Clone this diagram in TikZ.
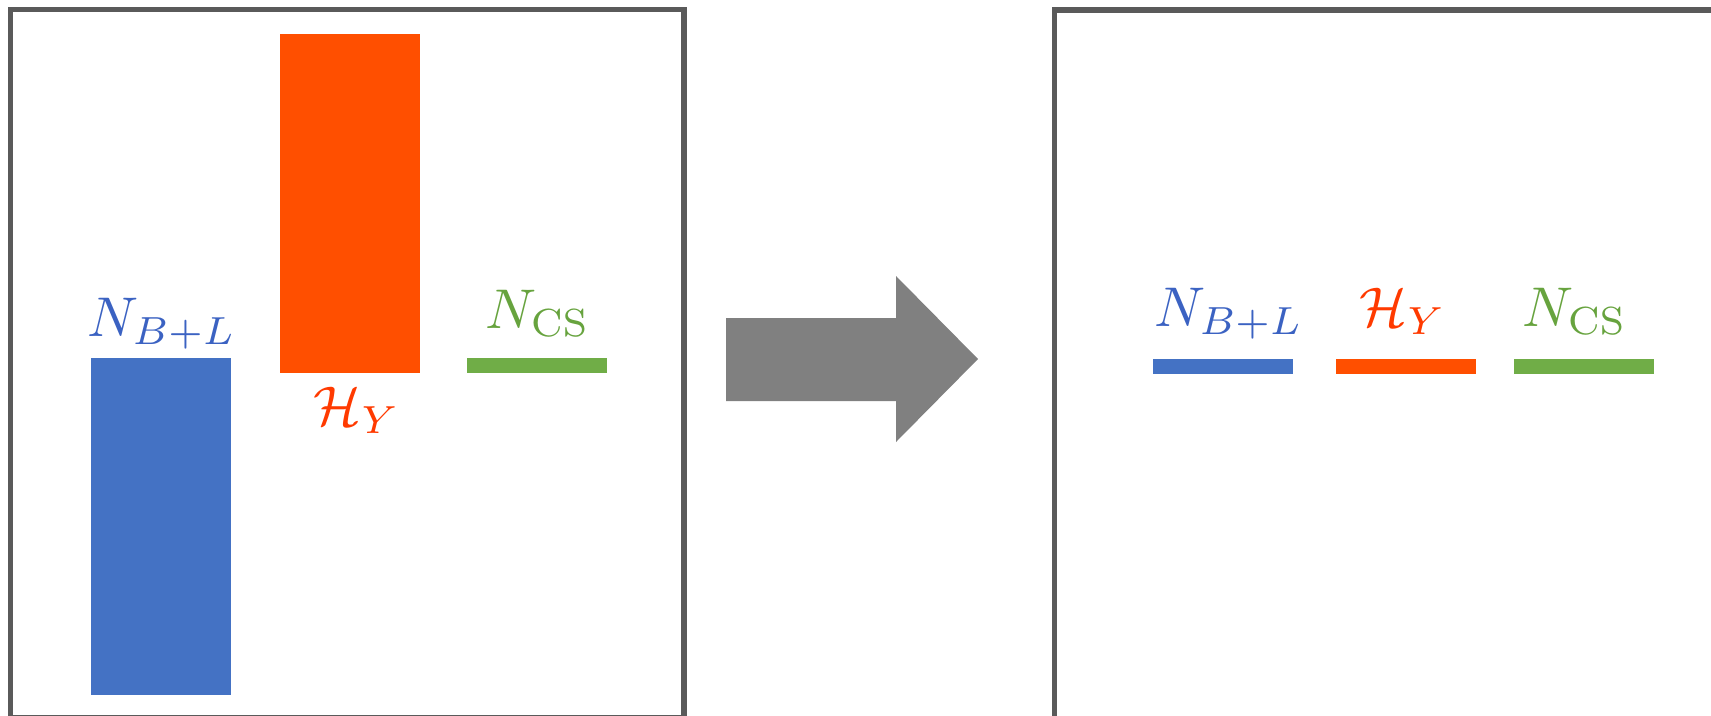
\documentclass[tikz,border=0pt]{standalone}
\definecolor{frameGray}{HTML}{5A5A5A}
\definecolor{arrowGray}{HTML}{808080}
\definecolor{barBlue}{HTML}{4472C4}
\definecolor{barOrange}{HTML}{FF4F00}
\definecolor{barGreen}{HTML}{70AD47}
\definecolor{txtBlue}{HTML}{3B62C2}
\definecolor{txtRed}{HTML}{FF3A00}
\definecolor{txtGreen}{HTML}{67A33E}
\begin{document}
\begin{tikzpicture}[x=1pt,y=-1pt,
  panel/.style={draw=frameGray,line width=5.5pt},
  bar/.style={rectangle,inner sep=0pt,outer sep=0pt,minimum width=140pt},
  lbl/.style={inner sep=0pt,anchor=base,scale=5.6}]
\useasboundingbox (0,0) rectangle (1711,715);

% panels
\draw[panel] (10.7,9.3) rectangle (684,718);
\draw[panel] (1054.5,10) rectangle (1760,760);

% left panel: before
\node[bar,fill=barBlue,minimum height=337pt] (bl) at (161,526.5) {};
\node[bar,fill=barOrange,minimum height=338.5pt] (ol) at (350,203.25) {};
\node[bar,fill=barGreen,minimum height=15pt] (gl) at (537,365.5) {};
\node[lbl,text=txtBlue] (tbl) at (162,336) {$N_{B+L}$};
\node[lbl,text=txtRed] (tol) at (357,425) {$\mathcal{H}_Y$};
\node[lbl,text=txtGreen] (tgl) at (538,328) {$N_{\mathrm{CS}}$};

% transition arrow
\fill[arrowGray] (726,318) -- (896,318) -- (896,276) -- (978,359)
  -- (896,442) -- (896,401) -- (726,401) -- cycle;

% right panel: after
\node[bar,fill=barBlue,minimum height=15pt] (br) at (1223,366) {};
\node[bar,fill=barOrange,minimum height=15pt] (or) at (1405.5,366) {};
\node[bar,fill=barGreen,minimum height=15pt] (gr) at (1583.5,366) {};
\node[lbl,text=txtBlue] (tbr) at (1229,326) {$N_{B+L}$};
\node[lbl,text=txtRed] (tor) at (1403,326) {$\mathcal{H}_Y$};
\node[lbl,text=txtGreen] (tgr) at (1575,326) {$N_{\mathrm{CS}}$};
\end{tikzpicture}
\end{document}
